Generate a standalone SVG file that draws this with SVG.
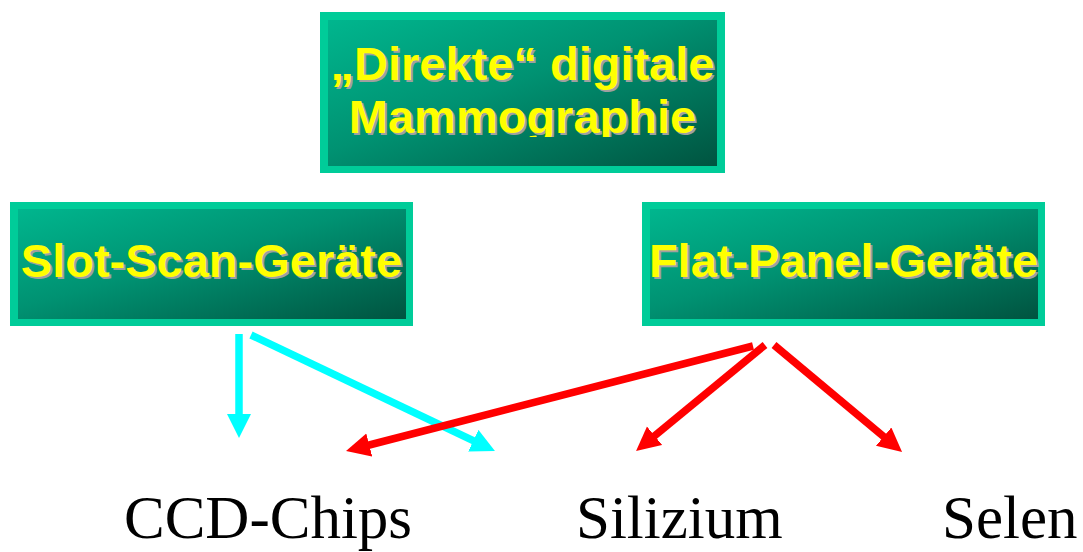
<svg xmlns="http://www.w3.org/2000/svg" width="1083" height="552" viewBox="0 0 1083 552">
  <style>
    .frame { fill: #00CC99; }
    .panel { fill: url(#panelFill); }
    .title { font-family: "Liberation Sans", Arial, sans-serif; font-weight: bold; font-size: 47px; text-anchor: middle; }
    .title .shade { fill: #A0A0A0; }
    .title .face { fill: #FFFF00; }
    .leaf { font-family: "Liberation Serif", "Times New Roman", serif; font-size: 61px; fill: #000000; }
    .cyan { stroke: #00FFFF; stroke-width: 7.5; fill: none; marker-end: url(#headCyan); }
    .red { stroke: #FF0000; stroke-width: 7.5; fill: none; marker-end: url(#headRed); }
  </style>
  <defs>
    <linearGradient id="panelFill" x1="0" y1="0" x2="1" y2="1">
      <stop offset="0" stop-color="#00B68E"/>
      <stop offset="0.45" stop-color="#009272"/>
      <stop offset="1" stop-color="#005440"/>
    </linearGradient>
    <marker id="headCyan" markerUnits="userSpaceOnUse" markerWidth="26" markerHeight="26" refX="4" refY="12" orient="auto">
      <path d="M0,0 L24,12 L0,24 z" fill="#00FFFF"/>
    </marker>
    <marker id="headRed" markerUnits="userSpaceOnUse" markerWidth="26" markerHeight="26" refX="4" refY="12" orient="auto">
      <path d="M0,0 L24,12 L0,24 z" fill="#FF0000"/>
    </marker>
    <clipPath id="line2Clip">
      <rect x="320" y="90" width="405" height="47"/>
    </clipPath>
  </defs>

  <rect x="0" y="0" width="1083" height="552" fill="#FFFFFF"/>

  <g id="node-root">
    <rect class="frame" x="320" y="12" width="405" height="161"/>
    <rect class="panel" x="328" y="20" width="389" height="146"/>
    <g class="title">
      <text class="shade" x="524.5" y="82">„Direkte“ digitale</text>
      <text class="face" x="522.5" y="80">„Direkte“ digitale</text>
      <g clip-path="url(#line2Clip)">
        <text class="shade" x="524.5" y="135">Mammographie</text>
        <text class="face" x="522.5" y="133">Mammographie</text>
      </g>
    </g>
  </g>

  <g id="node-slotscan">
    <rect class="frame" x="10" y="202" width="403" height="124"/>
    <rect class="panel" x="18" y="209" width="388" height="110"/>
    <g class="title">
      <text class="shade" x="213.5" y="279">Slot-Scan-Geräte</text>
      <text class="face" x="211.5" y="277">Slot-Scan-Geräte</text>
    </g>
  </g>

  <g id="node-flatpanel">
    <rect class="frame" x="642" y="202" width="403" height="124"/>
    <rect class="panel" x="650" y="209" width="388" height="110"/>
    <g class="title">
      <text class="shade" x="845.5" y="279">Flat-Panel-Geräte</text>
      <text class="face" x="843.5" y="277">Flat-Panel-Geräte</text>
    </g>
  </g>

  <g id="node-ccd">
    <text class="leaf" x="124" y="538">CCD-Chips</text>
  </g>
  <g id="node-silizium">
    <text class="leaf" x="576" y="538">Silizium</text>
  </g>
  <g id="node-selen">
    <text class="leaf" x="942" y="538">Selen</text>
  </g>

  <g id="connectors">
    <line class="cyan" x1="239" y1="334" x2="239" y2="418"/>
    <line class="cyan" x1="251" y1="335" x2="476.9" y2="442.4"/>
    <line class="red" x1="753" y1="346" x2="365.4" y2="446"/>
    <line class="red" x1="765" y1="345" x2="651.5" y2="438.3"/>
    <line class="red" x1="774" y1="345" x2="886.7" y2="439.2"/>
  </g>
</svg>
